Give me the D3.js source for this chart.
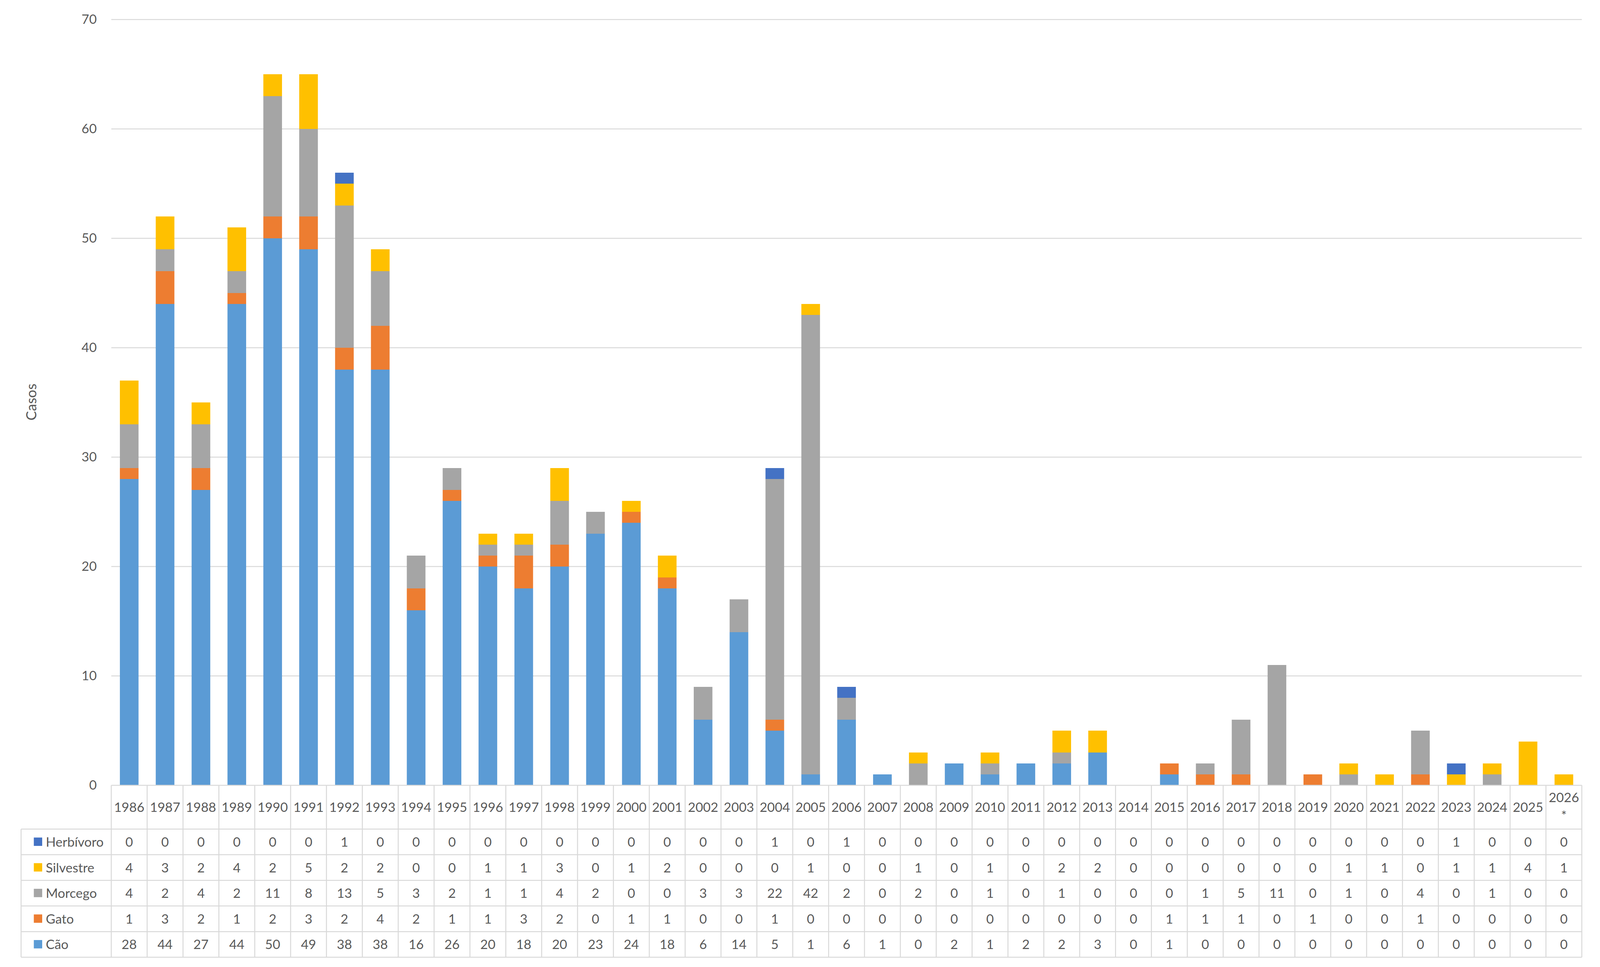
<!DOCTYPE html>
<html>
<head>
<meta charset="utf-8">
<script src="https://cdn.jsdelivr.net/npm/d3@7"></script>
<style>
  html, body { margin: 0; padding: 0; background: #fff; overflow: hidden; }
  svg { display: block; width: 100vw; height: 100vh; font-family: "Lato", "Liberation Sans", sans-serif; }
</style>
</head>
<body>
<div id="chart"></div>
<script>
// data (and its data table)
const years = ["1986","1987","1988","1989","1990","1991","1992","1993","1994","1995",
  "1996","1997","1998","1999","2000","2001","2002","2003","2004","2005",
  "2006","2007","2008","2009","2010","2011","2012","2013","2014","2015",
  "2016","2017","2018","2019","2020","2021","2022","2023","2024","2025","2026*"];
const cao       = [28,44,27,44,50,49,38,38,16,26,20,18,20,23,24,18,6,14,5,1,6,1,0,2,1,2,2,3,0,1,0,0,0,0,0,0,0,0,0,0,0];
const gato      = [1,3,2,1,2,3,2,4,2,1,1,3,2,0,1,1,0,0,1,0,0,0,0,0,0,0,0,0,0,1,1,1,0,1,0,0,1,0,0,0,0];
const morcego   = [4,2,4,2,11,8,13,5,3,2,1,1,4,2,0,0,3,3,22,42,2,0,2,0,1,0,1,0,0,0,1,5,11,0,1,0,4,0,1,0,0];
const silvestre = [4,3,2,4,2,5,2,2,0,0,1,1,3,0,1,2,0,0,0,1,0,0,1,0,1,0,2,2,0,0,0,0,0,0,1,1,0,1,1,4,1];
const herbivoro = [0,0,0,0,0,0,1,0,0,0,0,0,0,0,0,0,0,0,1,0,1,0,0,0,0,0,0,0,0,0,0,0,0,0,0,0,0,1,0,0,0];
const yTicks = [0,10,20,30,40,50,60,70];

const series = [
  { key: "Cão", values: cao, color: "#5B9BD5" },
  { key: "Gato", values: gato, color: "#ED7D31" },
  { key: "Morcego", values: morcego, color: "#A5A5A5" },
  { key: "Silvestre", values: silvestre, color: "#FFC000" },
  { key: "Herbívoro", values: herbivoro, color: "#4472C4" }
];

// layout was measured on a 4400x2475 frame; vertical positions get
// stretched if the window has another shape so the chart fills it
const width = 4400;
const vw = window.innerWidth || 4400, vh = window.innerHeight || 2475;
const height = width * vh / vw;
const ky = height / 2475;

const plotLeft = 306, plotRight = 4350;
const plotTop = 50 * ky, plotBottom = 2010 * ky;
const legendLeft = 58;
const headerBottom = 2122 * ky, rowH = 65.6 * ky;
const textColor = "#595959", lineColor = "#D9D9D9";

const svg = d3.select("#chart").append("svg")
  .attr("viewBox", "0 0 " + width + " " + height)
  .attr("preserveAspectRatio", "xMidYMid meet");

// table of rows for the stack
const table = years.map((y, i) => {
  const row = { year: y };
  series.forEach(s => { row[s.key] = s.values[i]; });
  return row;
});

const xCol = d3.scaleBand().domain(years).range([plotLeft, plotRight]).padding(0);
const xBar = d3.scaleBand().domain(years).range([plotLeft, plotRight])
  .paddingInner(0.48).paddingOuter(0.24);
const y = d3.scaleLinear().domain([0, 70]).range([plotBottom, plotTop]);

// gridlines
svg.append("g")
  .selectAll("line")
  .data(yTicks.filter(t => t > 0))
  .enter().append("line")
  .attr("x1", plotLeft).attr("x2", plotRight)
  .attr("y1", d => y(d)).attr("y2", d => y(d))
  .attr("stroke", lineColor).attr("stroke-width", 2.7);

// y axis labels
const yAxis = svg.append("g")
  .attr("transform", "translate(" + (plotLeft - 40) + ",0)")
  .call(d3.axisLeft(y).tickValues(yTicks).tickSize(0).tickPadding(0));
yAxis.select(".domain").remove();
yAxis.selectAll("text")
  .attr("fill", textColor)
  .style("font-size", "36px")
  .style("font-family", "Lato, 'Liberation Sans', sans-serif");

// axis title
svg.append("text")
  .attr("transform", "translate(100," + (1029 * ky) + ") rotate(-90)")
  .attr("text-anchor", "middle")
  .attr("fill", textColor)
  .style("font-size", "39px")
  .text("Casos");

// stacked bars
const stack = d3.stack().keys(series.map(s => s.key));
const stacked = stack(table);

svg.append("g")
  .selectAll("g")
  .data(stacked)
  .enter().append("g")
  .attr("fill", (d, i) => series[i].color)
  .selectAll("rect")
  .data(d => d.filter(p => p[1] > p[0]))
  .enter().append("rect")
  .attr("x", d => xBar(d.data.year))
  .attr("width", xBar.bandwidth())
  .attr("y", d => y(d[1]))
  .attr("height", d => y(d[0]) - y(d[1]));

// data table
const rows = series.slice().reverse(); // Herbívoro on top, Cão at bottom
const tableBottom = headerBottom + rowH * rows.length;
const grid = svg.append("g")
  .attr("stroke", lineColor).attr("stroke-width", 2.7);

// top border of the header (year cells only)
grid.append("line")
  .attr("x1", plotLeft).attr("x2", plotRight)
  .attr("y1", plotBottom).attr("y2", plotBottom);

// row borders
d3.range(rows.length + 1).forEach(i => {
  grid.append("line")
    .attr("x1", legendLeft).attr("x2", plotRight)
    .attr("y1", headerBottom + i * rowH).attr("y2", headerBottom + i * rowH);
});

// column borders
grid.append("line")
  .attr("x1", legendLeft).attr("x2", legendLeft)
  .attr("y1", headerBottom).attr("y2", tableBottom);
years.forEach(yr => {
  grid.append("line")
    .attr("x1", xCol(yr)).attr("x2", xCol(yr))
    .attr("y1", plotBottom).attr("y2", tableBottom);
});
grid.append("line")
  .attr("x1", plotRight).attr("x2", plotRight)
  .attr("y1", plotBottom).attr("y2", tableBottom);

// year headers
const header = svg.append("g")
  .attr("fill", textColor)
  .attr("text-anchor", "middle")
  .style("font-size", "36px");
const headerMid = (plotBottom + headerBottom) / 2;
years.forEach(yr => {
  const cx = xCol(yr) + xCol.bandwidth() / 2;
  if (yr.endsWith("*")) {
    header.append("text").attr("x", cx).attr("y", headerMid - 14).text(yr.slice(0, -1));
    header.append("text").attr("x", cx).attr("y", headerMid + 35).text("*");
  } else {
    header.append("text").attr("x", cx).attr("y", headerMid + 13).text(yr);
  }
});

// legend column and values
rows.forEach((s, r) => {
  const cy = headerBottom + r * rowH + rowH / 2;
  svg.append("rect")
    .attr("x", 93).attr("y", cy - 12)
    .attr("width", 23).attr("height", 23)
    .attr("fill", s.color);
  svg.append("text")
    .attr("x", 126).attr("y", cy + 13)
    .attr("fill", textColor)
    .style("font-size", "36px")
    .text(s.key);
  svg.append("g")
    .selectAll("text")
    .data(s.values)
    .enter().append("text")
    .attr("x", (d, i) => xCol(years[i]) + xCol.bandwidth() / 2)
    .attr("y", cy + 13)
    .attr("text-anchor", "middle")
    .attr("fill", textColor)
    .style("font-size", "36px")
    .text(d => d);
});
</script>
</body>
</html>
